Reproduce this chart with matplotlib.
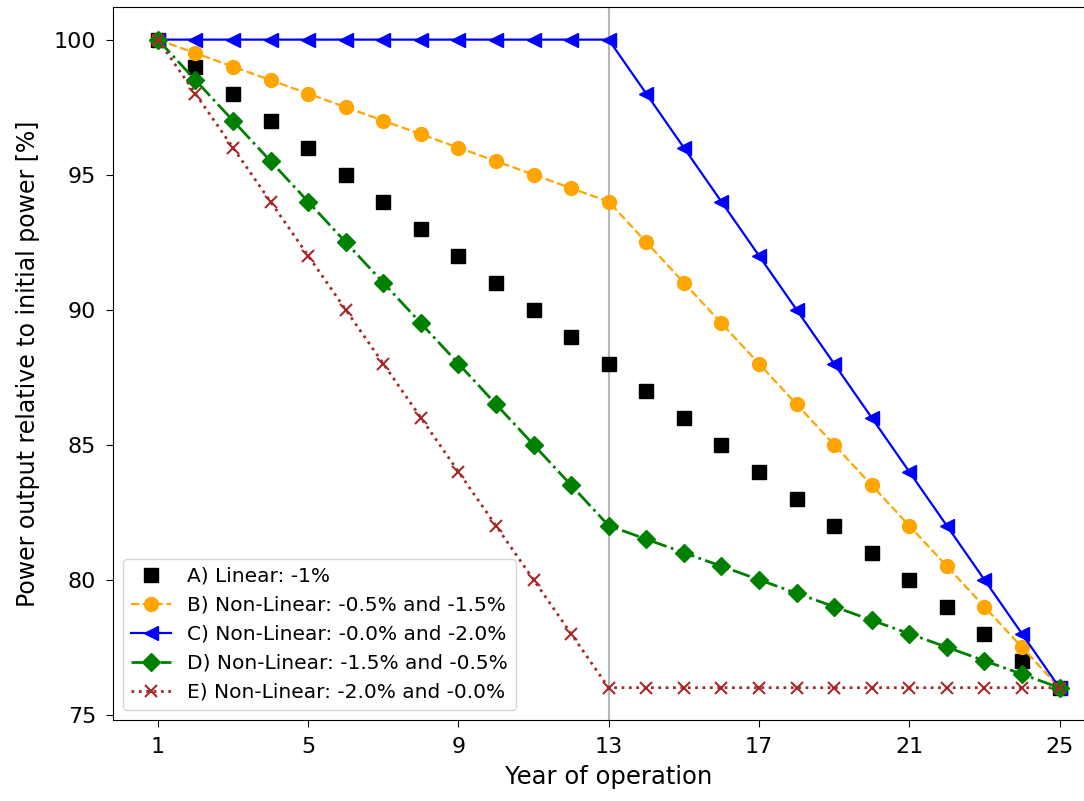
import numpy as np
import matplotlib.pyplot as plt

years = list(range(1, 26))

# power output relative to initial power [%]
linear_a = [100, 99, 98, 97, 96, 95, 94, 93, 92, 91, 90, 89, 88,
            87, 86, 85, 84, 83, 82, 81, 80, 79, 78, 77, 76]
nonlin_b = [100, 99.5, 99, 98.5, 98, 97.5, 97, 96.5, 96, 95.5, 95, 94.5, 94,
            92.5, 91, 89.5, 88, 86.5, 85, 83.5, 82, 80.5, 79, 77.5, 76]
nonlin_c = [100, 100, 100, 100, 100, 100, 100, 100, 100, 100, 100, 100, 100,
            98, 96, 94, 92, 90, 88, 86, 84, 82, 80, 78, 76]
nonlin_d = [100, 98.5, 97, 95.5, 94, 92.5, 91, 89.5, 88, 86.5, 85, 83.5, 82,
            81.5, 81, 80.5, 80, 79.5, 79, 78.5, 78, 77.5, 77, 76.5, 76]
nonlin_e = [100, 98, 96, 94, 92, 90, 88, 86, 84, 82, 80, 78, 76,
            76, 76, 76, 76, 76, 76, 76, 76, 76, 76, 76, 76]

labels = ["A) Linear: -1%",
          "B) Non-Linear: -0.5% and -1.5%",
          "C) Non-Linear: -0.0% and -2.0%",
          "D) Non-Linear: -1.5% and -0.5%",
          "E) Non-Linear: -2.0% and -0.0%"]
break_year = 13
xticks = [1, 5, 9, 13, 17, 21, 25]

fig = plt.figure(figsize=(10.84, 8.01), dpi=100)
# right spine sits just outside the picture, as in the cropped original
ax = fig.add_axes([0.104, 0.101, 0.915, 0.890])

ax.axvline(break_year, color="#b8b8b8", lw=1.5, zorder=1)
ax.plot(years, linear_a, "s", color="black", ms=10, label=labels[0])
ax.plot(years, nonlin_b, "o--", color="orange", ms=10, lw=1.6, label=labels[1])
ax.plot(years, nonlin_c, "<-", color="blue", ms=10, lw=1.6, label=labels[2])
ax.plot(years, nonlin_d, "D-.", color="green", ms=9.5, lw=2.0, label=labels[3])
ax.plot(years, nonlin_e, "x:", color="brown", ms=9, mew=1.5, lw=2.0,
        label=labels[4])

ax.set_xticks(xticks)
ax.set_yticks([75, 80, 85, 90, 95, 100])
ax.set_xlabel("Year of operation", fontsize=17.5, labelpad=6)
ax.set_ylabel("Power output relative to initial power [%]", fontsize=17,
              labelpad=10)
ax.tick_params(length=5, labelsize=16, pad=7)
ax.legend(loc="lower left", fontsize=14.5)

fig.savefig("out.png", dpi=100)
